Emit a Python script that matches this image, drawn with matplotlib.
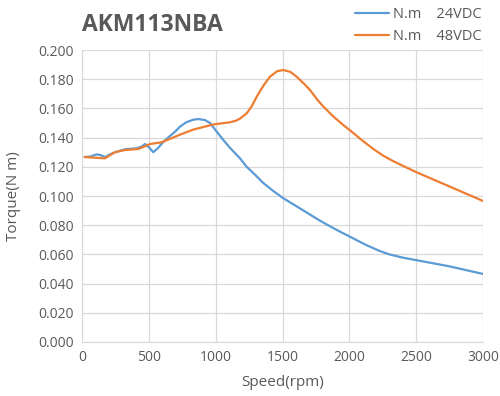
import matplotlib
matplotlib.use("Agg")
import matplotlib.pyplot as plt

title = "AKM113NBA"
series_names = ["N.m    24VDC", "N.m    48VDC"]

rpm_24 = [20, 60, 110, 140, 172, 210, 247, 322, 409, 450, 471, 500, 533, 565, 608, 650, 696, 733, 780, 830, 870, 920, 958, 1000, 1057, 1107, 1182, 1232, 1290, 1355, 1430, 1504, 1640, 1780, 1900, 2005, 2120, 2230, 2300, 2400, 2492, 2750, 3000]
torque_24 = [0.1267, 0.1270, 0.1285, 0.1280, 0.1267, 0.1285, 0.1300, 0.1320, 0.1327, 0.1340, 0.1356, 0.1335, 0.1300, 0.1325, 0.1370, 0.1405, 0.1440, 0.1475, 0.1505, 0.1522, 0.1527, 0.1520, 0.1500, 0.1450, 0.1384, 0.1330, 0.1258, 0.1200, 0.1150, 0.1090, 0.1035, 0.0986, 0.0910, 0.0831, 0.0770, 0.0721, 0.0667, 0.0622, 0.0600, 0.0578, 0.0562, 0.0518, 0.0466]

rpm_48 = [20, 100, 172, 210, 247, 322, 421, 470, 509, 596, 733, 833, 982, 1107, 1150, 1182, 1232, 1270, 1307, 1360, 1406, 1460, 1506, 1560, 1606, 1660, 1706, 1760, 1806, 1880, 1955, 2005, 2100, 2180, 2250, 2330, 2492, 2750, 3000]
torque_48 = [0.1267, 0.1262, 0.1258, 0.1280, 0.1300, 0.1315, 0.1322, 0.1340, 0.1356, 0.1368, 0.1420, 0.1455, 0.1490, 0.1505, 0.1515, 0.1530, 0.1566, 0.1615, 0.1680, 0.1760, 0.1817, 0.1855, 0.1863, 0.1850, 0.1817, 0.1770, 0.1726, 0.1660, 0.1612, 0.1545, 0.1486, 0.1450, 0.1378, 0.1322, 0.1278, 0.1238, 0.1167, 0.1065, 0.0966]

xticks = [0, 500, 1000, 1500, 2000, 2500, 3000]
yticks = [0.0, 0.02, 0.04, 0.06, 0.08, 0.10, 0.12, 0.14, 0.16, 0.18, 0.20]

plt.rcParams['font.family'] = ['Open Sans', 'DejaVu Sans']

fig = plt.figure(figsize=(5.0, 3.96), dpi=100)
ax = fig.add_axes([0.164, 0.1364, 0.802, 0.7373])

ax.plot(rpm_24, torque_24, color='#5B9BD5', lw=1.6, label=series_names[0],
        solid_capstyle='round', solid_joinstyle='round')
ax.plot(rpm_48, torque_48, color='#ED7D31', lw=1.6, label=series_names[1],
        solid_capstyle='round', solid_joinstyle='round')

ax.set_xlim(0, 3000)
ax.set_ylim(0, 0.2)
ax.set_xticks(xticks)
ax.set_yticks(yticks)
ax.set_yticklabels([f"{v:.3f}" for v in yticks])
ax.grid(True, color='#D9D9D9', lw=0.9)
ax.set_axisbelow(True)
for s in ['top', 'right']:
    ax.spines[s].set_visible(False)
for s in ['left', 'bottom']:
    ax.spines[s].set_color('#D9D9D9')
ax.tick_params(length=0, labelsize=10, colors='#595959', pad=6)

ax.set_xlabel("Speed(rpm)", fontsize=11, color='#595959', labelpad=7)
ax.set_ylabel("Torque(N m)", fontsize=11, color='#595959', labelpad=12)

fig.text(0.164, 0.937, title, fontsize=16.5, fontweight='bold', color='#595959', ha='left', va='center')

leg = fig.legend(loc='upper right', bbox_to_anchor=(0.99, 1.015), frameon=False, fontsize=10.5,
                 handlelength=2.3, handletextpad=0.3, labelspacing=0.5)
for t in leg.get_texts():
    t.set_color('#595959')

fig.savefig("out.png", dpi=100)
